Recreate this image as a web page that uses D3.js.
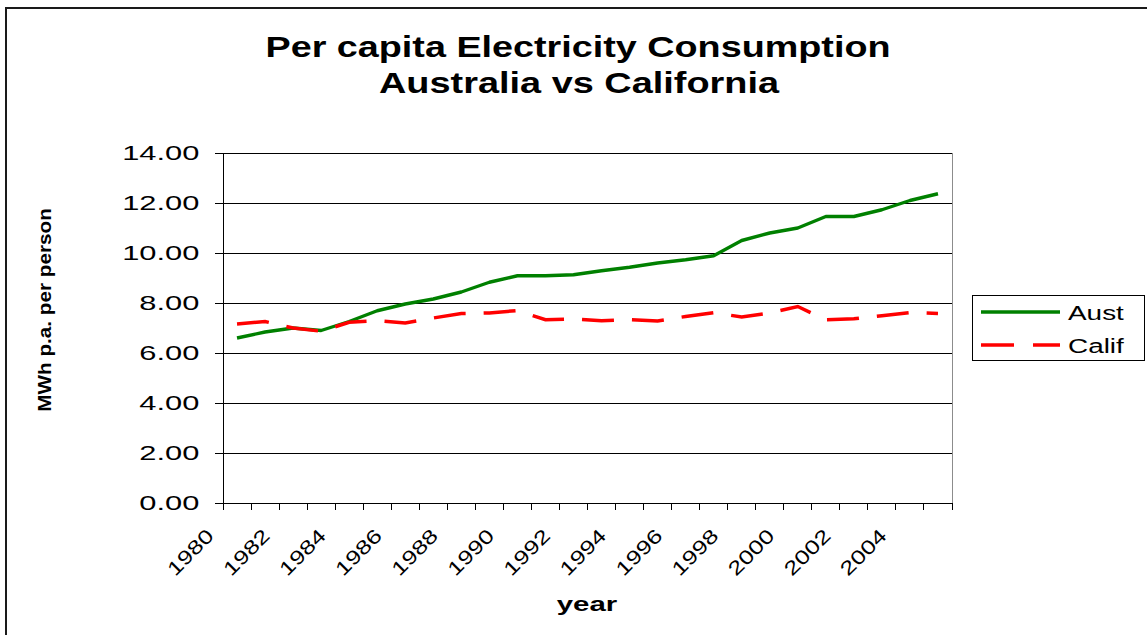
<!DOCTYPE html>
<html>
<head>
<meta charset="utf-8">
<script src="https://cdn.jsdelivr.net/npm/d3@7"></script>
<style>
  body { margin: 0; background: #fff; }
  svg { display: block; font-family: "Liberation Sans", Arial, sans-serif; }
</style>
</head>
<body>
<div id="chart"></div>
<script>
// values
const years = ["1980","1981","1982","1983","1984","1985","1986","1987","1988","1989","1990","1991","1992",
  "1993","1994","1995","1996","1997","1998","1999","2000","2001","2002","2003","2004","2005"];
const aust = [6.60, 6.84, 7.00, 6.90, 7.26, 7.69, 7.96, 8.16, 8.44, 8.83, 9.09, 9.09, 9.13,
  9.29, 9.43, 9.60, 9.73, 9.89, 10.50, 10.80, 11.00, 11.46, 11.46, 11.73, 12.10, 12.37];
const calif = [7.16, 7.26, 7.00, 6.87, 7.23, 7.29, 7.20, 7.40, 7.58, 7.60, 7.70, 7.33, 7.36,
  7.29, 7.33, 7.28, 7.46, 7.61, 7.44, 7.60, 7.86, 7.33, 7.37, 7.49, 7.62, 7.58];
const yTicks = [0, 2, 4, 6, 8, 10, 12, 14];
const seriesNames = ["Aust", "Calif"];

const W = 1147, H = 635;
const margin = { top: 153, left: 223 };
const width = 729, height = 350;

const svg = d3.select("#chart").append("svg")
  .attr("width", W)
  .attr("height", H);

// outer chart border (runs off the right and bottom edge like the original)
svg.append("rect")
  .attr("x", 6).attr("y", 8)
  .attr("width", W + 20).attr("height", H + 20)
  .attr("fill", "none")
  .attr("stroke", "#1a1a1a")
  .attr("stroke-width", 2);

// title
const title = svg.append("g").attr("font-weight", "bold").attr("fill", "#000");
title.append("text")
  .attr("x", 578).attr("y", 57)
  .attr("text-anchor", "middle")
  .style("font-size", "30px")
  .attr("textLength", 625).attr("lengthAdjust", "spacingAndGlyphs")
  .text("Per capita Electricity Consumption");
title.append("text")
  .attr("x", 579).attr("y", 93)
  .attr("text-anchor", "middle")
  .style("font-size", "30px")
  .attr("textLength", 400).attr("lengthAdjust", "spacingAndGlyphs")
  .text("Australia vs California");

const g = svg.append("g")
  .attr("transform", "translate(" + margin.left + "," + margin.top + ")");

const x = d3.scaleBand()
  .domain(years)
  .range([0, width])
  .padding(0);

const y = d3.scaleLinear()
  .domain([0, 14])
  .range([height, 0]);

// plot area frame (grey)
g.append("rect")
  .attr("x", 0.5).attr("y", 0.5)
  .attr("width", width).attr("height", height)
  .attr("fill", "none")
  .attr("stroke", "#8c8c8c")
  .attr("stroke-width", 1)
  .attr("shape-rendering", "crispEdges");

// horizontal gridlines
g.selectAll("line.grid")
  .data(yTicks.filter(d => d > 0))
  .enter().append("line")
  .attr("class", "grid")
  .attr("x1", 0).attr("x2", width)
  .attr("y1", d => y(d)).attr("y2", d => y(d))
  .attr("stroke", "#000")
  .attr("stroke-width", 1)
  .attr("shape-rendering", "crispEdges");

// y axis
const yAxis = d3.axisLeft(y)
  .tickValues(yTicks)
  .tickFormat(d3.format(".2f"))
  .tickSize(8)
  .tickSizeOuter(0)
  .tickPadding(7);

const yg = g.append("g").call(yAxis);
yg.select(".domain").attr("stroke", "#000").attr("shape-rendering", "crispEdges");
yg.selectAll(".tick line").attr("stroke", "#000").attr("shape-rendering", "crispEdges");
yg.selectAll(".tick text")
  .style("font-size", "19.5px")
  .attr("fill", "#000")
  .attr("transform", "scale(1.58,1)");

// x axis: labels centred in categories, every other year
const xAxis = d3.axisBottom(x)
  .tickSize(0)
  .tickSizeOuter(0)
  .tickFormat((d, i) => i % 2 === 0 ? d : "");

const xg = g.append("g")
  .attr("transform", "translate(0," + height + ")")
  .call(xAxis);
xg.select(".domain").attr("stroke", "#000").attr("shape-rendering", "crispEdges");
xg.selectAll(".tick text")
  .style("font-size", "19.5px")
  .attr("fill", "#000")
  .attr("y", 0).attr("dy", 0)
  .attr("text-anchor", "end")
  .attr("transform", "translate(-22,34) rotate(-45) scale(1.3,1)");

// category boundary tick marks
xg.selectAll("line.cat")
  .data(years.concat(["end"]))
  .enter().append("line")
  .attr("class", "cat")
  .attr("x1", d => d === "end" ? width : x(d))
  .attr("x2", d => d === "end" ? width : x(d))
  .attr("y1", 0).attr("y2", 7)
  .attr("stroke", "#000")
  .attr("shape-rendering", "crispEdges");

// lines
const line = d3.line()
  .x((d, i) => x(years[i]) + x.bandwidth() / 2)
  .y(d => y(d));

g.append("path")
  .datum(aust)
  .attr("fill", "none")
  .attr("stroke", "#008000")
  .attr("stroke-width", 3.4)
  .attr("stroke-linejoin", "round")
  .attr("d", line);

g.append("path")
  .datum(calif)
  .attr("fill", "none")
  .attr("stroke", "#ff0000")
  .attr("stroke-width", 3.5)
  .attr("stroke-dasharray", "32 18")
  .attr("d", line);

// axis titles
svg.append("text")
  .attr("transform", "translate(51,310) rotate(-90) scale(1.12,1)")
  .attr("text-anchor", "middle")
  .attr("font-weight", "bold")
  .style("font-size", "18.5px")
  .text("MWh p.a. per person");

svg.append("text")
  .attr("transform", "translate(587,611) scale(1.4,1)")
  .attr("text-anchor", "middle")
  .attr("font-weight", "bold")
  .style("font-size", "21px")
  .text("year");

// legend
const legend = svg.append("g").attr("transform", "translate(972,295)");
legend.append("rect")
  .attr("x", 0.5).attr("y", 0.5)
  .attr("width", 172).attr("height", 65)
  .attr("fill", "#fff")
  .attr("stroke", "#000")
  .attr("stroke-width", 1)
  .attr("shape-rendering", "crispEdges");

const items = legend.selectAll("g.item")
  .data(seriesNames)
  .enter().append("g")
  .attr("class", "item")
  .attr("transform", (d, i) => "translate(0," + (17 + i * 33) + ")");

items.append("line")
  .attr("x1", 9).attr("x2", 88)
  .attr("stroke", (d, i) => i === 0 ? "#008000" : "#ff0000")
  .attr("stroke-width", 3.4)
  .attr("stroke-dasharray", (d, i) => i === 0 ? null : "33 19");

items.append("text")
  .attr("transform", "translate(96,8) scale(1.33,1)")
  .style("font-size", "21px")
  .text(d => d);
</script>
</body>
</html>
